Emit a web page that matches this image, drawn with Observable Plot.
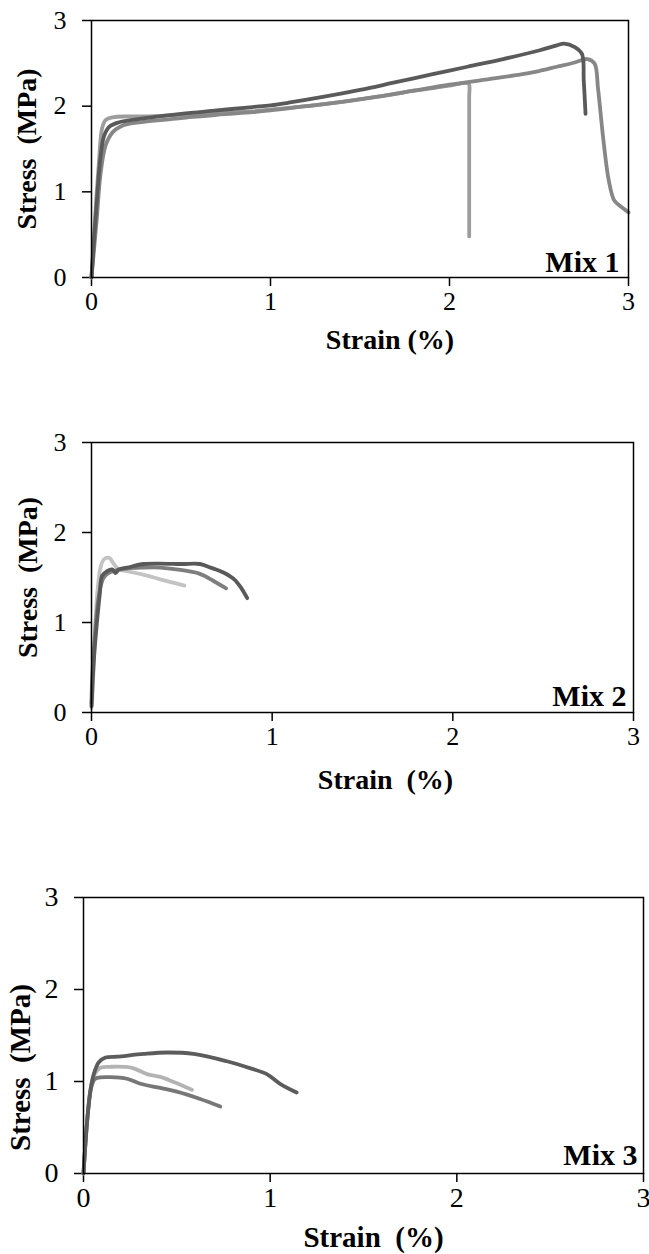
<!DOCTYPE html>
<html>
<head>
<meta charset="utf-8">
<script src="https://cdn.jsdelivr.net/npm/d3@7"></script>
<script src="https://cdn.jsdelivr.net/npm/@observablehq/plot@0.6"></script>
<style>
  html, body { margin: 0; padding: 0; background: #fff; }
  #wrap { position: relative; width: 649px; height: 1254px; overflow: hidden; }
  #wrap > svg { position: absolute; left: 0; }
  #wrap svg, #wrap svg text { font-family: 'Liberation Serif', 'Times New Roman', serif !important; }
</style>
</head>
<body>
<div id="wrap"></div>
<script>
// ---- axis ticks / labels ----
const xTicks = [0, 1, 2, 3];
const yTicks = [0, 1, 2, 3];
const xTitle1 = "Strain (%)";
const xTitle23 = "Strain\u00a0 (%)";
const yTitle = "Stress\u00a0 (MPa)";
const mixLabels = ["Mix 1", "Mix 2", "Mix 3"];

// ---- Mix 1 : [strain %, stress MPa] ----
const mix1Dark = [[0,0],[0.03,0.9],[0.05,1.4],[0.07,1.65],[0.1,1.76],[0.15,1.81],[0.2,1.83],[0.3,1.86],[0.5,1.91],[0.7,1.95],[0.9,1.99],[1.0,2.01],[1.1,2.04],[1.3,2.11],[1.5,2.19],[1.7,2.28],[1.9,2.37],[2.1,2.46],[2.3,2.55],[2.5,2.65],[2.6,2.71],[2.64,2.73],[2.7,2.69],[2.74,2.61],[2.75,2.3],[2.76,1.91]];
const mix1Mid = [[0,0],[0.03,0.7],[0.05,1.2],[0.08,1.55],[0.12,1.7],[0.16,1.76],[0.2,1.79],[0.3,1.82],[0.5,1.86],[0.7,1.9],[0.9,1.93],[1.0,1.95],[1.2,2.0],[1.4,2.05],[1.6,2.11],[1.8,2.18],[2.0,2.25],[2.2,2.31],[2.4,2.37],[2.5,2.41],[2.6,2.46],[2.7,2.51],[2.77,2.55],[2.81,2.5],[2.83,2.2],[2.86,1.6],[2.89,1.13],[2.92,0.9],[2.95,0.84],[3.0,0.76]];
const mix1Light = [[0,0],[0.02,0.7],[0.04,1.3],[0.06,1.75],[0.08,1.84],[0.12,1.87],[0.2,1.88],[0.3,1.88],[0.5,1.9],[0.7,1.92],[0.9,1.94],[1.0,1.96],[1.2,2.0],[1.4,2.05],[1.6,2.11],[1.8,2.18],[2.0,2.24],[2.1,2.27],[2.11,2.25],[2.11,2.1],[2.11,0.48]];

// ---- Mix 2 ----
const mix2Dark = [[0,0.07],[0.013,0.58],[0.031,1.02],[0.045,1.3],[0.059,1.52],[0.086,1.57],[0.114,1.59],[0.133,1.55],[0.151,1.59],[0.197,1.61],[0.29,1.65],[0.38,1.655],[0.5,1.65],[0.6,1.65],[0.66,1.61],[0.73,1.556],[0.79,1.48],[0.83,1.38],[0.862,1.27]];
const mix2Mid = [[0,0.1],[0.004,0.39],[0.022,0.94],[0.041,1.3],[0.068,1.5],[0.105,1.56],[0.197,1.6],[0.29,1.61],[0.38,1.61],[0.47,1.59],[0.6,1.54],[0.685,1.45],[0.745,1.38]];
const mix2Light = [[0,0.05],[0.004,0.14],[0.022,1.02],[0.035,1.39],[0.05,1.61],[0.068,1.70],[0.096,1.72],[0.124,1.65],[0.151,1.59],[0.197,1.57],[0.29,1.53],[0.38,1.48],[0.456,1.44],[0.515,1.41]];

// ---- Mix 3 ----
const mix3Dark = [[0,0],[0.005,0.16],[0.02,0.58],[0.037,0.9],[0.055,1.08],[0.082,1.21],[0.118,1.26],[0.18,1.27],[0.323,1.3],[0.447,1.315],[0.59,1.3],[0.768,1.22],[0.9,1.14],[0.982,1.08],[1.053,0.975],[1.142,0.88]];
const mix3Light = [[0,0],[0.02,0.58],[0.04,0.95],[0.06,1.08],[0.09,1.149],[0.144,1.16],[0.26,1.149],[0.34,1.08],[0.412,1.05],[0.483,0.995],[0.581,0.91]];
const mix3Mid = [[0,0],[0.02,0.58],[0.04,0.92],[0.058,1.02],[0.073,1.04],[0.144,1.047],[0.233,1.03],[0.305,0.975],[0.412,0.93],[0.5,0.89],[0.625,0.81],[0.733,0.728]];

const FONT = "'Liberation Serif', 'Times New Roman', serif";

function panel(cfg) {
  const lines = cfg.series.map(s => Plot.line(s.data, {
    x: d => d[0], y: d => d[1], stroke: s.color, strokeWidth: 3.8, curve: "catmull-rom",
    strokeLinejoin: "round", strokeLinecap: "round"
  }));
  return Plot.plot({
    width: 649, height: cfg.height,
    marginTop: cfg.mt, marginBottom: cfg.mb, marginLeft: cfg.ml, marginRight: cfg.mr,
    x: {domain: [0, 3]},
    y: {domain: [0, 3]},
    style: {fontFamily: FONT, fontSize: cfg.tf + "px", background: "transparent", overflow: "visible", color: "#000"},
    marks: [
      Plot.axisY({ticks: yTicks, tickSize: 9, tickPadding: cfg.ytp, fontSize: cfg.tf, label: null, tickFormat: d => d, strokeWidth: 1.5}),
      Plot.axisX({ticks: xTicks, tickSize: 9, tickPadding: cfg.xtp, fontSize: cfg.tf, label: null, tickFormat: d => d, strokeWidth: 1.5}),
      ...lines,
      Plot.frame({stroke: "#000", strokeWidth: 1.5}),
      Plot.text([cfg.mix], {text: d => d, frameAnchor: "bottom-right", textAnchor: "end", lineAnchor: "bottom",
        dx: cfg.mixDx, dy: cfg.mixDy, fontSize: 30, fontWeight: "bold", fill: "#000"}),
      Plot.text([cfg.xTitle], {text: d => d, frameAnchor: "bottom", textAnchor: "middle", lineAnchor: "middle",
        dx: cfg.xtDx, dy: cfg.xtDy, fontSize: cfg.af, fontWeight: "bold", fill: "#000"}),
      Plot.text([yTitle], {text: d => d, frameAnchor: "left", textAnchor: "middle", lineAnchor: "middle", rotate: -90,
        dx: cfg.ytDx, dy: cfg.ytDy, fontSize: cfg.af, fontWeight: "bold", fill: "#000"})
    ]
  });
}

const wrap = document.getElementById("wrap");
const p1 = panel({
  height: 400, mt: 20, mb: 123, ml: 91, mr: 21, tf: 26, af: 28, ytp: 16, xtp: 5,
  mix: mixLabels[0], mixDx: -9, mixDy: -6, xTitle: xTitle1, xtDx: 30, xtDy: 63, ytDx: -64, ytDy: 0,
  series: [
    {data: mix1Light, color: "#9d9d9d"},
    {data: mix1Mid, color: "#878787"},
    {data: mix1Dark, color: "#5a5a5a"}
  ]
});
p1.style.top = "0px";
wrap.appendChild(p1);

const p2 = panel({
  height: 440, mt: 42, mb: 128, ml: 91, mr: 16, tf: 26, af: 28, ytp: 16, xtp: 5,
  mix: mixLabels[1], mixDx: -7, mixDy: -7, xTitle: xTitle23, xtDx: 23, xtDy: 68, ytDx: -63, ytDy: 0,
  series: [
    {data: mix2Light, color: "#c3c3c3"},
    {data: mix2Mid, color: "#7e7e7e"},
    {data: mix2Dark, color: "#595959"}
  ]
});
p2.style.top = "400px";
wrap.appendChild(p2);

const p3 = panel({
  height: 414, mt: 57, mb: 81, ml: 83, mr: 6, tf: 28, af: 29, ytp: 16, xtp: 5,
  mix: mixLabels[2], mixDx: -6, mixDy: -9, xTitle: xTitle23, xtDx: 10, xtDy: 64, ytDx: -63, ytDy: 32,
  series: [
    {data: mix3Light, color: "#b3b3b3"},
    {data: mix3Mid, color: "#777777"},
    {data: mix3Dark, color: "#5c5c5c"}
  ]
});
p3.style.top = "840px";
wrap.appendChild(p3);
</script>
</body>
</html>
